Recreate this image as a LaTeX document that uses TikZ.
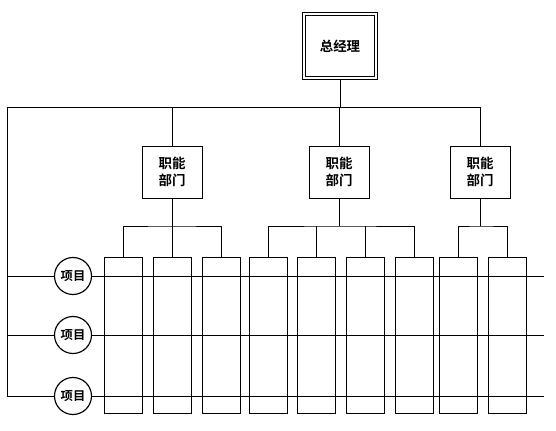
\documentclass[tikz,border=0pt]{standalone}
\usepackage{fontspec}
\newfontfamily\cjk[BoldFont={Noto Sans CJK SC Bold}]{Noto Sans CJK SC}
\usetikzlibrary{calc}
\tikzset{org lines/.style={line width=0.8pt,color=black}}
\tikzset{boss box/.style={draw,double,double distance=1.8pt,line width=0.6pt,inner sep=0pt,minimum width=2.17cm,minimum height=1.93cm,font=\cjk\bfseries\fontsize{11.5}{14}\selectfont}}
\tikzset{dept box/.style={draw,org lines,inner sep=0pt,minimum width=1.8cm,minimum height=1.56cm,align=center,font=\cjk\bfseries\fontsize{11.5}{15}\selectfont}}
\tikzset{team col/.style={draw,org lines,inner sep=0pt,minimum width=1.14cm,minimum height=4.68cm}}
\tikzset{proj circ/.style={draw,line width=1pt,circle,inner sep=0pt,minimum size=1.11cm,font=\cjk\bfseries\fontsize{10.5}{12}\selectfont}}

\begin{document}
\begin{tikzpicture}[x=0.03cm,y=-0.03cm]
	\useasboundingbox (0,0) rectangle (556,431);
	% top
	\node[boss box] (ceo) at (340,46) {总经理};
	\coordinate (topL) at (7,107); %left corner of the top line
	\coordinate (rEnd) at (544,0);

	% departments
	\node[dept box] (d1) at (172,172) {职能\\部门};
	\node[dept box] (d2) at (339,172) {职能\\部门};
	\node[dept box] (d3) at (480,172) {职能\\部门};

	% columns
	\node[team col] (c1) at (123.5,335) {};
	\node[team col] (c2) at (172.5,335) {};
	\node[team col] (c3) at (221,335) {};
	\node[team col] (c4) at (268,335) {};
	\node[team col] (c5) at (316,335) {};
	\node[team col] (c6) at (365.5,335) {};
	\node[team col] (c7) at (414.5,335) {};
	\node[team col] (c8) at (458.5,335) {};
	\node[team col] (c9) at (507.5,335) {};

	% projects
	\node[proj circ] (p1) at (73,276) {项目};
	\node[proj circ] (p2) at (73,335) {项目};
	\node[proj circ] (p3) at (73,396) {项目};

	\coordinate (b1) at (172,226);
	\coordinate (b2) at (339,226);
	\coordinate (b3) at (480,226);

	\draw[org lines] (ceo.south) -- (ceo.south |- topL);
	\draw[org lines] (p3.west) -| (topL) -| (d3.north);
	\draw[org lines] (d1.north) -- (d1.north |- topL);
	\draw[org lines] (d2.north) -- (d2.north |- topL);
	\draw[org lines] (p1.west) -- (p1.west -| topL);
	\draw[org lines] (p2.west) -- (p2.west -| topL);

	\draw[org lines] (d1.south) -- (b1);
	\draw[org lines] (c1.north) |- (b1) -| (c3.north);
	\draw[org lines] (c2.north) -- (c2.north |- b1);
	\draw[org lines] (d2.south) -- (b2);
	\draw[org lines] (c4.north) |- (b2) -| (c7.north);
	\draw[org lines] (c5.north) -- (c5.north |- b2);
	\draw[org lines] (c6.north) -- (c6.north |- b2);
	\draw[org lines] (d3.south) -- (b3);
	\draw[org lines] (c8.north) |- (b3) -| (c9.north);

	\draw[org lines] (p1.east) -- (p1.east -| rEnd);
	\draw[org lines] (p2.east) -- (p2.east -| rEnd);
	\draw[org lines] (p3.east) -- (p3.east -| rEnd);
\end{tikzpicture}
\end{document}
